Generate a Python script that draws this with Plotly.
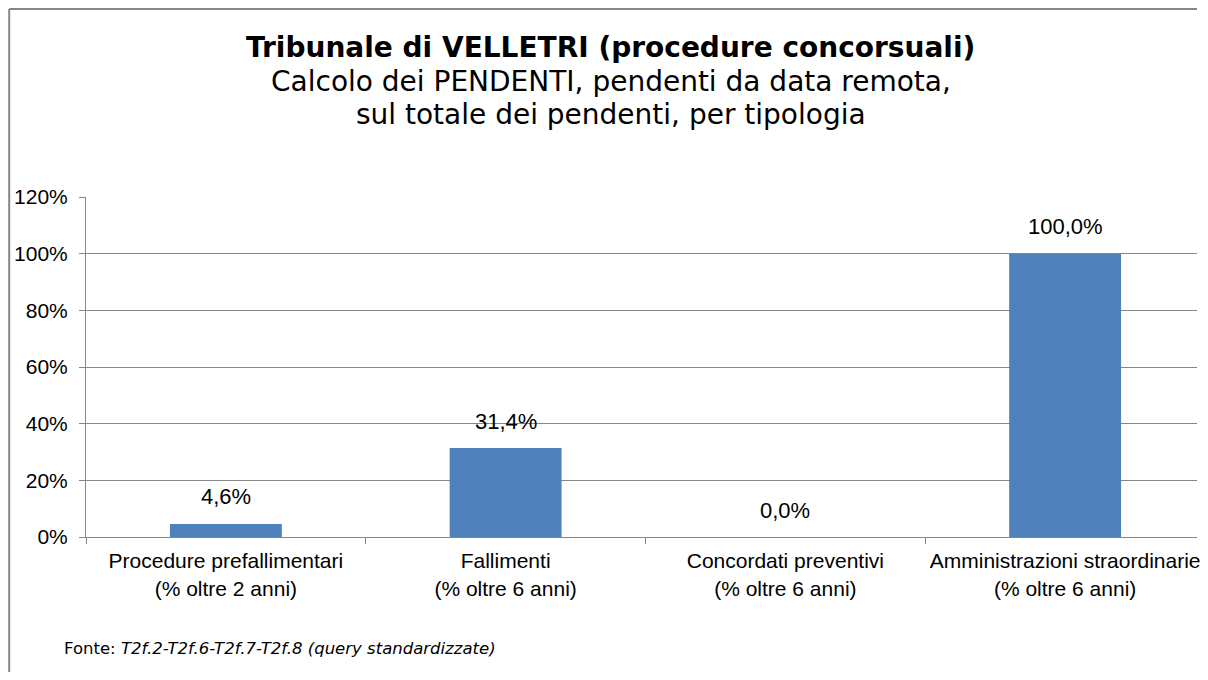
import plotly.graph_objects as go

categories = ["Procedure prefallimentari<br>(% oltre 2 anni)",
              "Fallimenti<br>(% oltre 6 anni)",
              "Concordati preventivi<br>(% oltre 6 anni)",
              "Amministrazioni straordinarie<br>(% oltre 6 anni)"]
values = [0.046, 0.314, 0.0, 1.0]
y_ticks = [0, 0.2, 0.4, 0.6, 0.8, 1.0, 1.2]
y_tick_labels = ["0%", "20%", "40%", "60%", "80%", "100%", "120%"]

title_main = "Tribunale di VELLETRI (procedure concorsuali)"
subtitle_1 = "Calcolo dei PENDENTI, pendenti da data remota,"
subtitle_2 = "sul totale dei pendenti, per tipologia"

value_labels = [("%.1f%%" % (v * 100)).replace(".", ",") for v in values]

# page has an 8px body margin: figure drawn from (8, 8); keep it inside the window
OFF = 8
W, H = 1208 - 2 * OFF, 680 - 2 * OFF
ML, MR, MT, MB = 86 - OFF, 0, 197 - OFF, H - (537 - OFF)
PW, PH = W - ML - MR, H - MT - MB

# the reference's category band is 280.5px; the plot is cut at the window edge
CAT_W = 280.5
x_max = -0.5 + PW / CAT_W

def px_x(x):
    return (x - OFF - ML) / PW

def px_y(y):
    return (H - MB - (y - OFF)) / PH

GRID = "#868686"
AXF = "Liberation Sans, Arial, sans-serif"
VF = "DejaVu Sans, Verdana, sans-serif"

fig = go.Figure()
fig.add_trace(go.Bar(x=categories, y=values, width=0.4,
                     marker=dict(color="#4F81BD", line=dict(width=0)),
                     hoverinfo="skip"))

for c, v, t in zip(categories, values, value_labels):
    fig.add_annotation(x=c, y=v, xref="x", yref="y", text=t, showarrow=False,
                       yanchor="middle", yshift=27,
                       font=dict(family=AXF, size=22, color="#000000"))

for txt, yy in [("<b>" + title_main + "</b>", 47), (subtitle_1, 81), (subtitle_2, 115)]:
    fig.add_annotation(x=px_x(612), y=px_y(yy), xref="paper", yref="paper",
                       text=txt, showarrow=False,
                       xanchor="center", yanchor="middle",
                       font=dict(family=VF, size=28, color="#000000"))

fig.add_annotation(x=px_x(62), y=px_y(648), xref="paper", yref="paper",
                   text="Fonte: <i>T2f.2-T2f.6-T2f.7-T2f.8 (query standardizzate)</i>",
                   showarrow=False, xanchor="left", yanchor="middle",
                   font=dict(family=VF, size=16.5, color="#000000"))

# chart frame: only left and top edges are visible in the picture
fig.add_shape(type="line", xref="paper", yref="paper",
              x0=px_x(9), y0=px_y(9), x1=px_x(9), y1=px_y(672),
              line=dict(color=GRID, width=2), layer="below")
fig.add_shape(type="line", xref="paper", yref="paper",
              x0=px_x(9), y0=px_y(9), x1=px_x(1200), y1=px_y(9),
              line=dict(color=GRID, width=2), layer="below")

fig.update_layout(
    width=W, height=H,
    margin=dict(l=ML, r=MR, t=MT, b=MB, pad=0),
    paper_bgcolor="white", plot_bgcolor="white",
    showlegend=False,
    xaxis=dict(type="category", range=[-0.5, x_max],
               showline=True, linecolor=GRID, linewidth=1,
               ticks="outside", tickson="boundaries", ticklen=6, tickcolor=GRID,
               showgrid=False, tickfont=dict(family=AXF, size=21, color="#000000"),
               ticklabelstandoff=5, fixedrange=True),
    yaxis=dict(range=[0, 1.2], tickvals=y_ticks, ticktext=y_tick_labels,
               showline=True, linecolor=GRID, linewidth=1,
               ticks="outside", ticklen=6, tickcolor=GRID,
               showgrid=True, gridcolor=GRID, gridwidth=1, zeroline=False,
               tickfont=dict(family=AXF, size=21, color="#000000"),
               ticklabelstandoff=7, fixedrange=True),
)

fig.write_html("out.html", config={"displayModeBar": False})
